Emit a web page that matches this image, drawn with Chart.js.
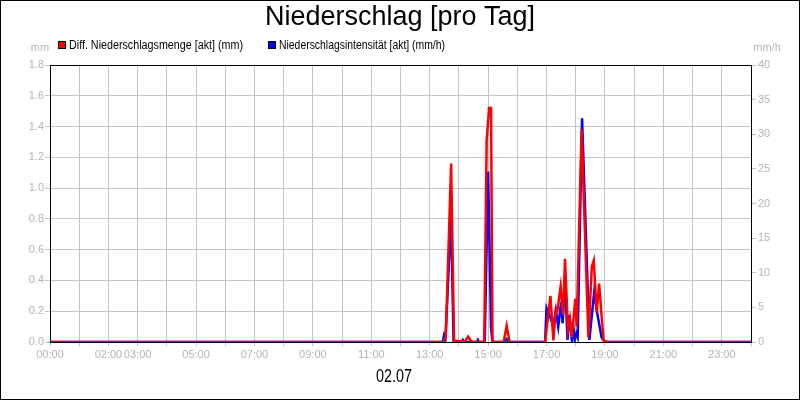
<!DOCTYPE html>
<html>
<head>
<meta charset="utf-8">
<title>Niederschlag [pro Tag]</title>
<script src="https://cdn.jsdelivr.net/npm/chart.js@4/dist/chart.umd.min.js"></script>
<style>
  html, body { margin: 0; padding: 0; background: #fff; }
  #wrap { width: 800px; height: 400px; position: relative; }
</style>
</head>
<body>
<div id="wrap"><canvas id="myChart" width="800" height="400"></canvas></div>
<script>
// Diff. Niederschlagsmenge (mm), left axis
const mengeTimes = ['00:00', '13:29', '13:33', '13:44', '13:50', '14:12', '14:19', '14:26',
  '14:52', '14:57', '15:02', '15:06', '15:09', '15:32', '15:38', '15:44',
  '16:57', '17:08', '17:14', '17:19', '17:22', '17:29', '17:34', '17:38', '17:44', '17:48',
  '17:52', '17:59', '18:02', '18:12', '18:26', '18:33', '18:37', '18:43', '18:48', '18:57',
  '19:04', '24:00'];
const mengeValues = [0, 0, 0.03, 1.16, 0.01, 0, 0.035, 0,
  0, 1.31, 1.52, 1.52, 0, 0, 0.105, 0,
  0, 0.30, 0.01, 0.21, 0.20, 0.36, 0.175, 0.54, 0.08, 0.15,
  0.03, 0.28, 0.10, 1.38, 0.03, 0.49, 0.53, 0.19, 0.38, 0.01,
  0, 0];

// Niederschlagsintensitaet (mm/h), right axis
const intensTimes = ['00:00', '13:27', '13:29', '13:32', '13:44', '13:49', '14:05', '14:08', '14:11',
  '14:37', '14:39', '14:41', '14:53', '15:00', '15:06', '15:09', '15:34', '15:38', '15:42',
  '16:57', '17:00', '17:14', '17:19', '17:24', '17:30', '17:33', '17:38', '17:43', '17:47',
  '17:52', '17:55', '17:58', '18:02', '18:04', '18:13', '18:28', '18:38', '18:43', '18:53',
  '19:00', '24:00'];
const intensValues = [0, 0, 0.8, 0, 18.2, 0, 0, 0.3, 0,
  0, 0.3, 0, 0, 24.6, 2.0, 0, 0, 0.4, 0,
  0, 4.9, 2.4, 4.6, 2.2, 5.8, 2.7, 9.4, 0.3, 3.9,
  0.3, 2.2, 0.3, 1.3, 0.8, 32.3, 0.3, 7.3, 4.6, 0.7,
  0, 0];

const xLabels = ['00:00', '02:00', '03:00', '05:00', '07:00', '09:00', '11:00', '13:00',
  '15:00', '17:00', '19:00', '21:00', '23:00'];
const seriesNames = ['Diff. Niederschlagsmenge [akt] (mm)', 'Niederschlagsintensität [akt] (mm/h)'];
const chartTitle = 'Niederschlag [pro Tag]';
const dateLabel = '02.07';

const sans = '"Liberation Sans", Arial, sans-serif';
const gray = '#b4b4b4';

function toMin(s) {
  const [h, m] = s.split(':');
  return Number(h) * 60 + Number(m);
}
const toPoints = (times, vals) => times.map((t, i) => ({ x: toMin(t), y: vals[i] }));

// title, legend, units, frame
const decorations = {
  id: 'decorations',
  afterDraw(chart) {
    const ctx = chart.ctx;
    const a = chart.chartArea;
    ctx.save();
    ctx.strokeStyle = '#000';
    ctx.lineWidth = 1;
    ctx.beginPath();
    ctx.moveTo(a.left, Math.round(a.top) + 0.5);
    ctx.lineTo(a.right, Math.round(a.top) + 0.5);
    ctx.stroke();
    ctx.strokeRect(0.5, 0.5, chart.width - 1, chart.height - 1);

    ctx.fillStyle = '#000';
    ctx.textAlign = 'center';
    ctx.textBaseline = 'middle';
    ctx.font = '27px ' + sans;
    ctx.fillText(chartTitle, 400, 18);
    ctx.font = '18px ' + sans;
    ctx.fillText(dateLabel, 394, 377, 36);

    // legend (text squeezed to the narrow look of the original)
    ctx.font = '12px ' + sans;
    ctx.textAlign = 'left';
    const items = [{ x: 58, color: '#ff0000', w: 174 }, { x: 268, color: '#0000ff', w: 166 }];
    items.forEach((it, i) => {
      ctx.fillStyle = it.color;
      ctx.fillRect(it.x, 41, 8, 8);
      ctx.strokeStyle = '#000';
      ctx.strokeRect(it.x + 0.5, 41.5, 7, 7);
      ctx.fillStyle = '#000';
      ctx.fillText(seriesNames[i], it.x + 11, 45.5, it.w);
    });

    // axis units
    ctx.fillStyle = gray;
    ctx.textAlign = 'center';
    ctx.font = '11px ' + sans;
    ctx.fillText('mm', 40, 48);
    ctx.fillText('mm/h', 767, 48);
    ctx.restore();
  }
};

const ctx = document.getElementById('myChart').getContext('2d');
const myChart = new Chart(ctx, {
  type: 'line',
  data: {
    datasets: [
      {
        label: seriesNames[0],
        data: toPoints(mengeTimes, mengeValues),
        borderColor: '#ff0000',
        backgroundColor: '#ff0000',
        borderWidth: 2.5,
        pointRadius: 0,
        tension: 0,
        yAxisID: 'y'
      },
      {
        label: seriesNames[1],
        data: toPoints(intensTimes, intensValues),
        borderColor: '#0000ff',
        backgroundColor: '#0000ff',
        borderWidth: 2.5,
        pointRadius: 0,
        tension: 0,
        yAxisID: 'y1'
      }
    ]
  },
  options: {
    responsive: false,
    animation: false,
    devicePixelRatio: 1,
    layout: { padding: { top: 65, left: 0, right: 0, bottom: 0 } },
    plugins: {
      legend: { display: false },
      title: { display: false },
      tooltip: { enabled: false }
    },
    scales: {
      x: {
        type: 'linear',
        min: 0,
        max: 1440,
        afterFit: (scale) => { scale.height = 58; },
        afterBuildTicks: (scale) => {
          scale.ticks = [];
          for (let m = 0; m <= 1440; m += 60) scale.ticks.push({ value: m });
        },
        ticks: {
          autoSkip: false,
          maxRotation: 0,
          padding: 2,
          color: gray,
          font: { family: sans, size: 11 },
          callback: (v) => {
            const h = String(Math.floor(v / 60)).padStart(2, '0') + ':00';
            return xLabels.includes(h) ? h : '';
          }
        },
        grid: { color: '#c4c4c4', tickLength: 4 },
        border: { display: true, color: '#000', width: 1 }
      },
      y: {
        position: 'left',
        min: 0,
        max: 1.8,
        afterFit: (scale) => { scale.width = 50; },
        ticks: {
          stepSize: 0.2,
          padding: 1,
          color: gray,
          font: { family: sans, size: 11 },
          callback: (v) => v.toFixed(1)
        },
        grid: { color: '#c4c4c4', tickLength: 5 },
        border: { display: true, color: '#000', width: 1 }
      },
      y1: {
        position: 'right',
        min: 0,
        max: 40,
        afterFit: (scale) => { scale.width = 49; },
        ticks: {
          stepSize: 5,
          padding: 2,
          color: gray,
          font: { family: sans, size: 11 }
        },
        grid: { drawOnChartArea: false, color: '#c4c4c4', tickLength: 5 },
        border: { display: true, color: '#000', width: 1 }
      }
    }
  },
  plugins: [decorations]
});
</script>
</body>
</html>
